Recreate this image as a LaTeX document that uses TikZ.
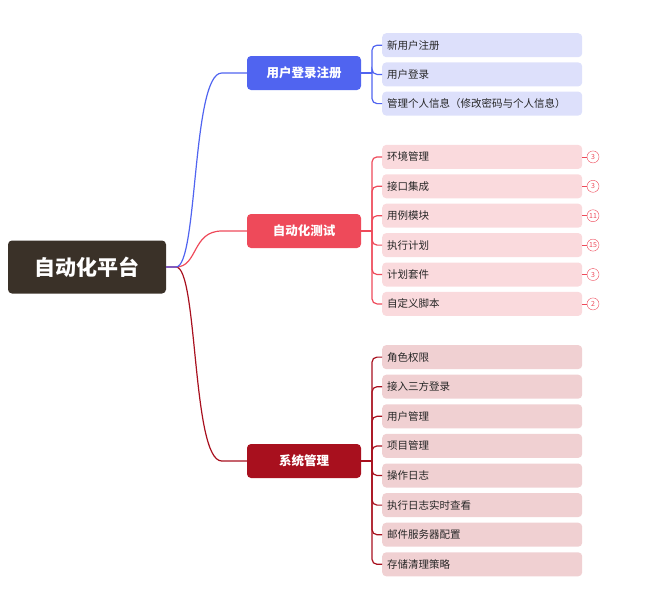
\documentclass[tikz,border=0pt]{standalone}
\usepackage{fontspec}
\setmainfont{Noto Sans CJK SC}
\usepackage{tikz}
\usetikzlibrary{calc}
\definecolor{rootbrown}{RGB}{58,49,40}
\definecolor{loginblue}{RGB}{80,100,240}
\definecolor{loginleaf}{RGB}{221,224,251}
\definecolor{testred}{RGB}{238,74,90}
\definecolor{testleaf}{RGB}{250,218,221}
\definecolor{sysred}{RGB}{168,16,30}
\definecolor{sysleaf}{RGB}{240,208,210}
\tikzset{
    x=1pt, y=-1pt,
    rootbox/.style={fill=rootbrown, text=white, rounded corners=4pt, minimum width=158pt, minimum height=53pt, font=\fontsize{21}{21}\selectfont\bfseries},
    branch/.style={rounded corners=4pt, text=white, minimum width=114pt, minimum height=34pt, font=\fontsize{12.5}{13}\selectfont\bfseries},
    leaf/.style={anchor=west, rounded corners=4pt, minimum width=200pt, minimum height=24pt, text width=190pt, align=left, inner xsep=5pt, font=\fontsize{10.5}{11}\selectfont, text=black!85},
    badge/.style={draw=testred, circle, fill=white, minimum size=12pt, inner sep=0pt, font=\fontsize{7}{7}\selectfont, text=testred},
    link/.style={line width=1.2pt}
}
\begin{document}
\begin{tikzpicture}
    \useasboundingbox (0,0) rectangle (652,603);
    \node[rootbox] (root) at (87,267) {自动化平台};
    \node[branch, fill=loginblue] (login) at (304,73) {用户登录注册};
    \node[branch, fill=testred] (auto) at (304,231) {自动化测试};
    \node[branch, fill=sysred] (sys) at (304,461) {系统管理};

    % root to branches
    \coordinate (rootout) at (176,267);
    \foreach \b/\c in {sys/sysred, auto/testred, login/loginblue}
        \draw[link, \c] (root.east) -- (rootout) .. controls ($(rootout)+(22,0)$) and ($(\b.west |- \b)+(-55,0)$) .. ($(\b.west)+(-25,0)$) -- (\b.west);

    % leaves
    \foreach \t [count=\i] in {新用户注册, 用户登录, 管理个人信息（修改密码与个人信息）}
        \node[leaf, fill=loginleaf] (login\i) at (382,{16+29.2*\i}) {\t};
    \foreach \t [count=\i] in {环境管理, 接口集成, 用例模块, 执行计划, 计划套件, 自定义脚本}
        \node[leaf, fill=testleaf] (auto\i) at (382,{127.5+29.4*\i}) {\t};
    \foreach \t [count=\i] in {角色权限, 接入三方登录, 用户管理, 项目管理, 操作日志, 执行日志实时查看, 邮件服务器配置, 存储清理策略}
        \node[leaf, fill=sysleaf] (sys\i) at (382,{327.5+29.6*\i}) {\t};

    % spines
    \foreach \b/\c/\n in {login/loginblue/3, auto/testred/6, sys/sysred/8} {
        \coordinate (\b spine) at (372,0);
        \draw[link, \c] (\b.east) -- (\b spine |- \b);
        \foreach \i in {1,...,\n}
            \draw[link, \c, rounded corners=5pt] (\b spine |- \b) |- (\b\i.west);
    }

    % badges
    \foreach \i/\v in {1/3, 2/3, 3/11, 4/15, 5/3, 6/2} {
        \node[badge] (count\i) at (593,0 |- auto\i) {\v};
        \draw[testred, line width=0.8pt] (auto\i.east) -- (count\i.west);
    }
\end{tikzpicture}
\end{document}
